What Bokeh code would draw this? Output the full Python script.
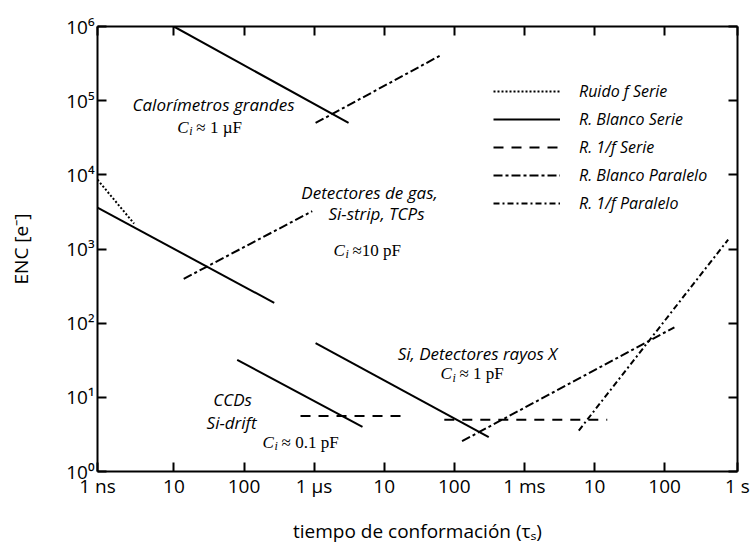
from bokeh.plotting import figure
from bokeh.models import (LogAxis, FixedTicker, CustomJSTickFormatter, Legend,
                          LegendItem, Range1d, ColumnDataSource)
from bokeh.core.properties import value
from bokeh.embed import file_html
from bokeh.resources import INLINE

# ---------------- axes ----------------
X_MIN = 10 ** -9.09
X_MAX = 10 ** 0.04
Y_MIN, Y_MAX = 1.0, 1e6

X_TICKS = [X_MIN, 1e-8, 1e-7, 1e-6, 1e-5, 1e-4, 1e-3, 1e-2, 1e-1, X_MAX]
X_TICK_LABELS = ["1 ns", "10", "100", "1 µs", "10", "100", "1 ms", "10", "100", "1 s"]
Y_TICKS = [1e0, 1e1, 1e2, 1e3, 1e4, 1e5, 1e6]
Y_TICK_LABELS = ["10⁰", "10¹", "10²", "10³", "10⁴", "10⁵", "10⁶"]
X_TITLE = "tiempo de conformación (τₛ)"
Y_TITLE = "ENC [e⁻]"

# ---------------- series (segments) ----------------
# Ruido f Serie (dotted)
F_SERIE_X = [[8.13e-10, 2.7e-9]]
F_SERIE_Y = [[8.6e3, 2.2e3]]
# R. Blanco Serie (solid)
BLANCO_SERIE_X = [[1e-8, 3.1e-6], [8.13e-10, 2.7e-7], [1.05e-6, 3.1e-4], [8.0e-8, 4.9e-6]]
BLANCO_SERIE_Y = [[1e6, 5.0e4], [3.6e3, 188], [54, 2.9], [32, 4.0]]
# R. 1/f Serie (dashed)
UNOF_SERIE_X = [[6.4e-7, 2.0e-5], [7.2e-5, 1.52e-2]]
UNOF_SERIE_Y = [[5.6, 5.6], [5.0, 5.0]]
# R. Blanco Paralelo (dash-dot)
BLANCO_PAR_X = [[1.05e-6, 6.3e-5], [1.38e-8, 9.4e-7], [1.29e-4, 0.138]]
BLANCO_PAR_Y = [[5.0e4, 4.06e5], [396, 3.23e3], [2.56, 88]]
# R. 1/f Paralelo (dash-dot-dot)
UNOF_PAR_X = [[5.97e-3, 0.807]]
UNOF_PAR_Y = [[3.57, 1.34e3]]

# ---------------- annotations ----------------
ANNOT_TEXT = ["Calorímetros grandes", "Detectores de gas,", "Si-strip, TCPs",
              "Si, Detectores rayos X", "CCDs", "Si-drift"]
ANNOT_X = [3.67e-8, 6.17e-6, 7.76e-6, 2.14e-4, 6.86e-8, 6.64e-8]
ANNOT_Y = [8.88e4, 5.83e3, 3.01e3, 38.6, 9.26, 4.54]

CAP_TEXT = ["≈ 1 µF", "≈10 pF", "≈ 1 pF", "≈ 0.1 pF"]
CAP_X = [1.12e-8, 1.89e-6, 6.35e-5, 1.84e-7]
CAP_Y = [4.35e4, 955, 20.9, 2.48]

SANS = "Open Sans"
SERIF = "Liberation Serif"

p = figure(width=750, height=547, x_axis_type="log", y_axis_type="log",
           x_range=Range1d(X_MIN, X_MAX), y_range=Range1d(Y_MIN, Y_MAX),
           output_backend="svg", toolbar_location=None,
           min_border_left=97, min_border_right=13, min_border_top=26,
           min_border_bottom=76, background_fill_color="white",
           border_fill_color="white")
p.outline_line_color = None
p.grid.visible = False

FMT_CODE = """
const lt = Math.log10(tick); let best = 0, bd = 1e9;
for (let i = 0; i < vals.length; i++) { const d = Math.abs(Math.log10(vals[i]) - lt); if (d < bd) { bd = d; best = i; } }
return labs[best];
"""
x_fmt = CustomJSTickFormatter(args=dict(vals=X_TICKS, labs=X_TICK_LABELS), code=FMT_CODE)
y_fmt = CustomJSTickFormatter(args=dict(vals=Y_TICKS, labs=Y_TICK_LABELS), code=FMT_CODE)
blank_fmt = CustomJSTickFormatter(code="return '';")


def style_axis(ax, show_labels=True):
    ax.axis_line_width = 2
    ax.axis_line_color = "black"
    ax.major_tick_line_width = 2
    ax.major_tick_line_color = "black"
    ax.major_tick_in = 9
    ax.major_tick_out = 0
    ax.minor_tick_line_color = None
    ax.major_label_text_font = SANS
    if show_labels:
        ax.major_label_text_color = "black"
        ax.major_label_text_font_size = "19px"
    else:
        ax.major_label_text_color = None
        ax.major_label_text_font_size = "1px"
        ax.major_label_standoff = 0


xa = p.xaxis[0]
xa.ticker = FixedTicker(ticks=X_TICKS)
xa.formatter = x_fmt
style_axis(xa)
xa.major_label_standoff = 1
xa.axis_label = X_TITLE
xa.axis_label_text_font = SANS
xa.axis_label_text_font_style = "normal"
xa.axis_label_text_font_size = "19px"
xa.axis_label_text_color = "black"
xa.axis_label_standoff = 16

ya = p.yaxis[0]
ya.ticker = FixedTicker(ticks=Y_TICKS)
ya.formatter = y_fmt
style_axis(ya)
ya.major_label_standoff = 3
ya.axis_label = Y_TITLE
ya.axis_label_text_font = SANS
ya.axis_label_text_font_style = "normal"
ya.axis_label_text_font_size = "19px"
ya.axis_label_text_color = "black"
ya.axis_label_standoff = 29

top = LogAxis(ticker=FixedTicker(ticks=X_TICKS), formatter=blank_fmt)
style_axis(top, False)
p.add_layout(top, "above")
right = LogAxis(ticker=FixedTicker(ticks=Y_TICKS), formatter=blank_fmt)
style_axis(right, False)
p.add_layout(right, "right")

# ---------------- lines ----------------
styles = [
    ("Ruido f Serie", F_SERIE_X, F_SERIE_Y, "2 2"),
    ("R. Blanco Serie", BLANCO_SERIE_X, BLANCO_SERIE_Y, "solid"),
    ("R. 1/f Serie", UNOF_SERIE_X, UNOF_SERIE_Y, "10 8"),
    ("R. Blanco Paralelo", BLANCO_PAR_X, BLANCO_PAR_Y, "9 3 3 3"),
    ("R. 1/f Paralelo", UNOF_PAR_X, UNOF_PAR_Y, "6 3 2 3"),
]
items = []
for name, xs, ys, dash in styles:
    r = p.multi_line(xs=xs, ys=ys, line_color="black", line_width=2, line_dash=dash)
    items.append(LegendItem(label=name, renderers=[r]))

legend = Legend(items=items, location=(396, 257), orientation="vertical",
                glyph_width=67, glyph_height=20, label_height=20, spacing=6,
                padding=0, margin=0, label_standoff=19,
                background_fill_alpha=0, border_line_color=None,
                label_text_font=SANS, label_text_font_style="italic",
                label_text_font_size="16px", label_text_color="black")
p.add_layout(legend, "center")

# ---------------- annotations ----------------
asrc = ColumnDataSource(dict(x=ANNOT_X, y=ANNOT_Y, t=ANNOT_TEXT))
p.text(x="x", y="y", text="t", source=asrc, text_font=value(SANS),
       text_font_style="italic", text_font_size="17px", text_align="center",
       text_baseline="middle", text_color="black")

csrc = ColumnDataSource(dict(x=CAP_X, y=CAP_Y, t=CAP_TEXT,
                             c=["C"] * len(CAP_X), i=["i"] * len(CAP_X)))
p.text(x="x", y="y", text="c", source=csrc, text_font=value(SERIF),
       text_font_style="italic", text_font_size="17px", text_align="left",
       text_baseline="middle", text_color="black")
p.text(x="x", y="y", text="i", source=csrc, text_font=value(SERIF),
       text_font_style="italic", text_font_size="12px", text_align="left",
       text_baseline="middle", text_color="black", x_offset=12, y_offset=4)
p.text(x="x", y="y", text="t", source=csrc, text_font=value(SERIF),
       text_font_size="17px", text_align="left",
       text_baseline="middle", text_color="black", x_offset=19)

open("out.html", "w").write(file_html(p, INLINE))
